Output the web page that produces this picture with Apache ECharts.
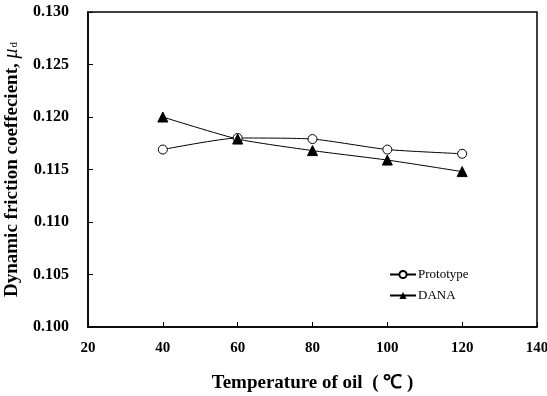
<!DOCTYPE html>
<html><head><meta charset="utf-8">
<script src="https://cdn.jsdelivr.net/npm/echarts@6/dist/echarts.min.js"></script>
<style>html,body{margin:0;padding:0;background:#fff}#c{width:547px;height:396px}</style>
</head><body><div id="c"></div>
<script>
const temps = [40, 60, 80, 100, 120];
const prototype = [0.1169, 0.1180, 0.1179, 0.1169, 0.1165];
const dana = [0.1200, 0.1179, 0.1168, 0.1159, 0.1148];
const xTicks = [20, 40, 60, 80, 100, 120, 140];
const yTicks = [0.100, 0.105, 0.110, 0.115, 0.120, 0.125, 0.130];

const font = '"Liberation Serif", "Times New Roman", serif';
const chart = echarts.init(document.getElementById('c'), null, {renderer: 'canvas'});
chart.setOption({
  animation: false,
  backgroundColor: '#fff',
  grid: {left: 88, right: 10, top: 12, bottom: 69, outerBoundsMode: 'none', containLabel: false,
         show: true, borderColor: '#000', borderWidth: 1.5, backgroundColor: 'transparent'},
  legend: {
    left: 384, top: 263, orient: 'vertical', itemGap: 8, itemWidth: 26, itemHeight: 9,
    textStyle: {fontFamily: font, fontSize: 13, color: '#000', padding: [0,0,0,-3]},
    data: ['Prototype', 'DANA']
  },
  xAxis: {
    type: 'value', min: xTicks[0], max: xTicks[xTicks.length-1], interval: 20,
    name: 'Temperature of oil  ( \u2103 )', nameLocation: 'middle', nameGap: 47,
    nameTextStyle: {fontFamily: font, fontSize: 19, fontWeight: 'bold', color: '#000'},
    axisLine: {show: true, lineStyle: {color: '#000', width: 1.5}},
    axisTick: {show: true, inside: true, length: 5, lineStyle: {color: '#000'}},
    axisLabel: {fontFamily: font, fontSize: 15, fontWeight: 'bold', color: '#000', margin: 14},
    splitLine: {show: false}
  },
  yAxis: {
    type: 'value', min: yTicks[0], max: yTicks[yTicks.length-1], interval: 0.005,
    name: 'Dynamic friction coeffecient, {mu|\u03BC}{sub|d}', nameLocation: 'middle', nameGap: 63,
    nameTextStyle: {fontFamily: font, fontSize: 19, fontWeight: 'bold', color: '#000',
      rich: {mu: {fontFamily: font, fontSize: 20, fontStyle: 'italic', fontWeight: 'normal', color: '#000'},
             sub: {fontFamily: font, fontSize: 11, fontWeight: 'normal', color: '#000', padding: [5,0,0,1]}}},
    axisLine: {show: true, lineStyle: {color: '#000', width: 1.5}},
    axisTick: {show: true, inside: true, length: 5, lineStyle: {color: '#000'}},
    axisLabel: {fontFamily: font, fontSize: 16, fontWeight: 'bold', color: '#000', margin: 19,
      formatter: v => v.toFixed(3)},
    splitLine: {show: false}
  },
  series: [
    {name: 'Prototype', type: 'line', data: temps.map((t,i)=>[t, prototype[i]]),
     symbol: 'circle', symbolSize: 9, smooth: 0.2,
     lineStyle: {color: '#000', width: 1}, itemStyle: {color: '#fff', borderColor: '#000', borderWidth: 1}},
    {name: 'DANA', type: 'line', data: temps.map((t,i)=>[t, dana[i]]),
     symbol: 'triangle', symbolSize: 10, smooth: 0.2,
     lineStyle: {color: '#000', width: 1}, itemStyle: {color: '#000', borderColor: '#000'}}
  ]
});
</script></body></html>
